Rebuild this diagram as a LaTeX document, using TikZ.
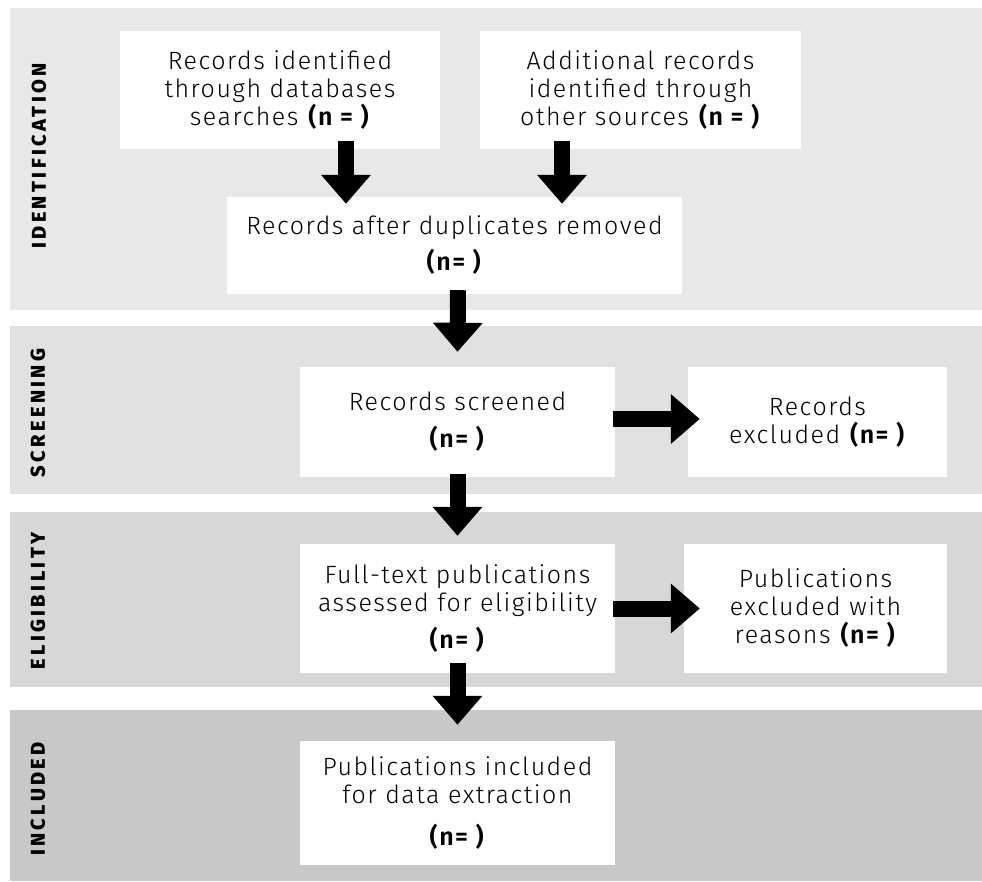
\documentclass[tikz,border=0pt]{standalone}
\usepackage{fontspec}
\setmainfont{Fira Sans}[UprightFont={* Light}, BoldFont={* SemiBold}, LetterSpace=6]
\newfontfamily\stagefont{Fira Sans}[BoldFont={* ExtraBold}, LetterSpace=17]
\usetikzlibrary{arrows.meta}

\definecolor{bandA}{HTML}{E8E8E8}
\definecolor{bandB}{HTML}{E1E1E1}
\definecolor{bandC}{HTML}{D7D7D7}
\definecolor{bandD}{HTML}{C8C8C8}

\tikzset{
  box/.style={fill=white, draw=none, inner sep=0pt, align=center,
    font=\fontsize{25}{28}\selectfont},
  stage/.style={rotate=90, inner sep=0pt,
    font=\stagefont\bfseries\fontsize{20}{24}\selectfont},
  blockarrow/.style={draw=black, line width=16pt,
    -{Triangle[length=29pt,width=48pt]}},
}

\begin{document}
\begin{tikzpicture}[x=1pt,y=-1pt]
  % canvas
  \fill[white] (0,0) rectangle (982,881);
  \useasboundingbox (0,0) rectangle (982,881);

  % stage bands
  \fill[bandA] (10,8)   rectangle (982,310);
  \fill[bandB] (10,326) rectangle (982,494);
  \fill[bandC] (10,512) rectangle (982,687);
  \fill[bandD] (10,710) rectangle (982,881);

  % stage labels
  \node[stage] (lid) at (39,156) {IDENTIFICATION};
  \node[stage] (lsc) at (38,413) {SCREENING};
  \node[stage] (lel) at (38,601) {ELIGIBILITY};
  \node[stage] (lin) at (38,799) {INCLUDED};

  % boxes
  \node[box, minimum width=320pt, minimum height=118pt] (db) at (280,90)
    {Records identified\\through databases\\searches \textbf{(n = )}};
  \node[box, minimum width=321pt, minimum height=118pt] (other) at (640.5,90)
    {Additional records\\identified through\\other sources \textbf{(n = )}};
  \node[box, minimum width=455pt, minimum height=97pt] (dup) at (454.5,245.5)
    {Records after duplicates removed\\[8pt]\textbf{(n= )}};
  \node[box, minimum width=315pt, minimum height=110pt] (screen) at (457.5,422)
    {Records screened\\[9pt]\textbf{(n= )}};
  \node[box, minimum width=259pt, minimum height=110pt] (excl) at (817.5,422)
    {Records\\excluded \textbf{(n= )}};
  \node[box, minimum width=315pt, minimum height=129pt] (full) at (457.5,608.5)
    {Full-text publications\\assessed for eligibility\\[9pt]\textbf{(n= )}};
  \node[box, minimum width=263pt, minimum height=129pt] (fexcl) at (815.5,608.5)
    {Publications\\excluded with\\reasons \textbf{(n= )}};
  \node[box, minimum width=315pt, minimum height=124pt] (incl) at (457.5,803)
    {Publications included\\for data extraction\\[14pt]\textbf{(n= )}};

  % connectors
  \draw[blockarrow] ([xshift=66pt,yshift=8pt]db.south)
    -- ([xshift=-108.5pt,yshift=-7pt]dup.north);
  \draw[blockarrow] ([xshift=-78.5pt,yshift=8pt]other.south)
    -- ([xshift=107.5pt,yshift=-7pt]dup.north);
  \draw[blockarrow] ([xshift=3.5pt,yshift=4pt]dup.south)
    -- ([yshift=15pt]screen.north);
  \draw[blockarrow] ([yshift=3pt]screen.south)
    -- ([yshift=8pt]full.north);
  \draw[blockarrow] ([yshift=10pt]full.south)
    -- ([yshift=16pt]incl.north);
  \draw[blockarrow] ([xshift=-2pt,yshift=3pt]screen.east)
    -- ([xshift=12pt,yshift=3pt]excl.west);
  \draw[blockarrow] ([xshift=-2pt]full.east)
    -- ([xshift=16pt]fexcl.west);
\end{tikzpicture}
\end{document}
